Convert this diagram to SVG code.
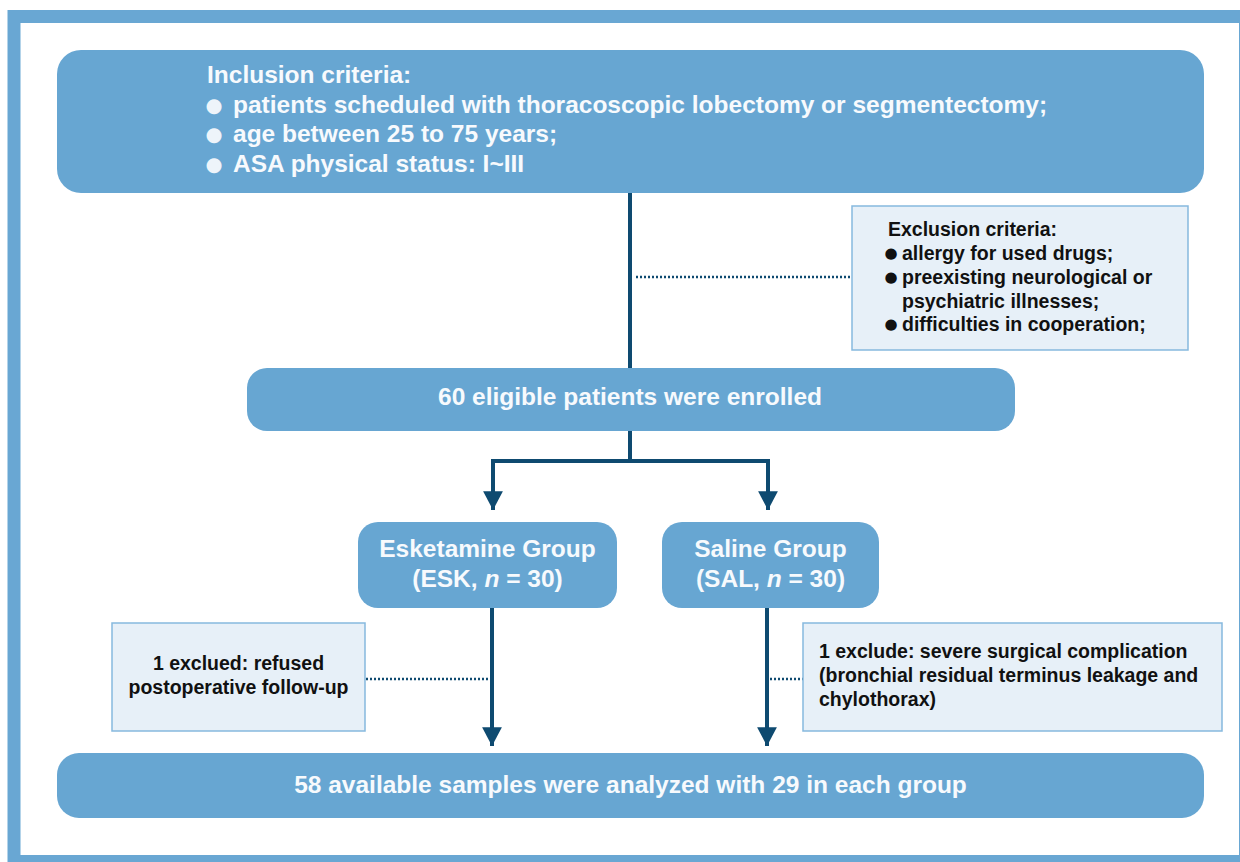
<svg xmlns="http://www.w3.org/2000/svg" width="1240" height="862" viewBox="0 0 1240 862">
<defs>
<style>
.box{fill:#67a6d2;}
.light{fill:#e7f0f8;stroke:#86b9de;stroke-width:1.5;}
.wt{font-family:"Liberation Sans",Arial,sans-serif;font-weight:bold;font-size:24.5px;fill:#f7fafd;}
.bt{font-family:"Liberation Sans",Arial,sans-serif;font-weight:bold;font-size:19.5px;fill:#111;}
.bw{font-family:"DejaVu Sans",sans-serif;font-size:19.5px;fill:#eef4fa;}
.bb{font-family:"DejaVu Sans",sans-serif;font-size:15px;fill:#111;}
.mid{text-anchor:middle;}
.line{fill:none;stroke:#0e4a70;stroke-width:4;}
.dot{fill:none;stroke:#0e4a70;stroke-width:2.5;stroke-dasharray:2 2;}
</style>
<marker id="arr" markerUnits="userSpaceOnUse" markerWidth="22" markerHeight="20" viewBox="0 0 20 18" refX="17" refY="9" orient="auto">
<path d="M0,0 L17,9 L0,18 Z" fill="#0e4a70"/>
</marker>
</defs>
<rect x="0" y="0" width="1240" height="862" fill="#ffffff"/>
<rect id="frame" x="14" y="16.5" width="1231.5" height="845" fill="none" stroke="#69a7d3" stroke-width="13"/>

<g id="connectors">
<path class="line" d="M630,193 V368"/>
<path class="dot" d="M636,277 H852"/>
<path class="line" d="M630,431 V461 M491,461 H770"/>
<path class="line" d="M493,459 V510" marker-end="url(#arr)"/>
<path class="line" d="M768,459 V510" marker-end="url(#arr)"/>
<path class="line" d="M492,608 V746" marker-end="url(#arr)"/>
<path class="line" d="M767,608 V746" marker-end="url(#arr)"/>
<path class="dot" d="M366,679 H490"/>
<path class="dot" d="M770,679 H803"/>
</g>

<g id="inclusion">
<rect class="box" x="57" y="50" width="1147" height="143" rx="24"/>
<text class="wt" x="207" y="83">Inclusion criteria:</text>
<text class="bw" x="205.5" y="111.5">●</text>
<text class="wt" x="233" y="112.5">patients scheduled with thoracoscopic lobectomy or segmentectomy;</text>
<text class="bw" x="205.5" y="141">●</text>
<text class="wt" x="233" y="142">age between 25 to 75 years;</text>
<text class="bw" x="205.5" y="170.5">●</text>
<text class="wt" x="233" y="171.5">ASA physical status: I~III</text>
</g>

<g id="exclusion">
<rect class="light" x="852" y="206" width="336" height="144"/>
<text class="bt" x="888" y="236">Exclusion criteria:</text>
<text class="bb" x="884.5" y="258">●</text>
<text class="bt" x="902" y="260">allergy for used drugs;</text>
<text class="bb" x="884.5" y="282">●</text>
<text class="bt" x="902" y="284">preexisting neurological or</text>
<text class="bt" x="902" y="307.5">psychiatric illnesses;</text>
<text class="bb" x="884.5" y="329">●</text>
<text class="bt" x="902" y="331">difficulties in cooperation;</text>
</g>

<g id="enrolled">
<rect class="box" x="247" y="368" width="768" height="63" rx="20"/>
<text class="wt mid" x="630" y="405">60 eligible patients were enrolled</text>
</g>

<g id="esk">
<rect class="box" x="358" y="522" width="259" height="86" rx="20"/>
<text class="wt mid" x="487.5" y="557">Esketamine Group</text>
<text class="wt mid" x="487.5" y="587">(ESK, <tspan font-style="italic">n</tspan> = 30)</text>
</g>

<g id="sal">
<rect class="box" x="662" y="522" width="217" height="86" rx="20"/>
<text class="wt mid" x="770.5" y="557">Saline Group</text>
<text class="wt mid" x="770.5" y="587">(SAL, <tspan font-style="italic">n</tspan> = 30)</text>
</g>

<g id="excl-esk">
<rect class="light" x="112" y="623" width="253" height="108"/>
<text class="bt mid" x="238.5" y="670">1 exclued: refused</text>
<text class="bt mid" x="238.5" y="694">postoperative follow-up</text>
</g>

<g id="excl-sal">
<rect class="light" x="803" y="623" width="419" height="108"/>
<text class="bt" x="819" y="658">1 exclude: severe surgical complication</text>
<text class="bt" x="819" y="682">(bronchial residual terminus leakage and</text>
<text class="bt" x="819" y="706">chylothorax)</text>
</g>

<g id="analyzed">
<rect class="box" x="57" y="753" width="1147" height="65" rx="22"/>
<text class="wt mid" x="630.5" y="793">58 available samples were analyzed with 29 in each group</text>
</g>
</svg>
